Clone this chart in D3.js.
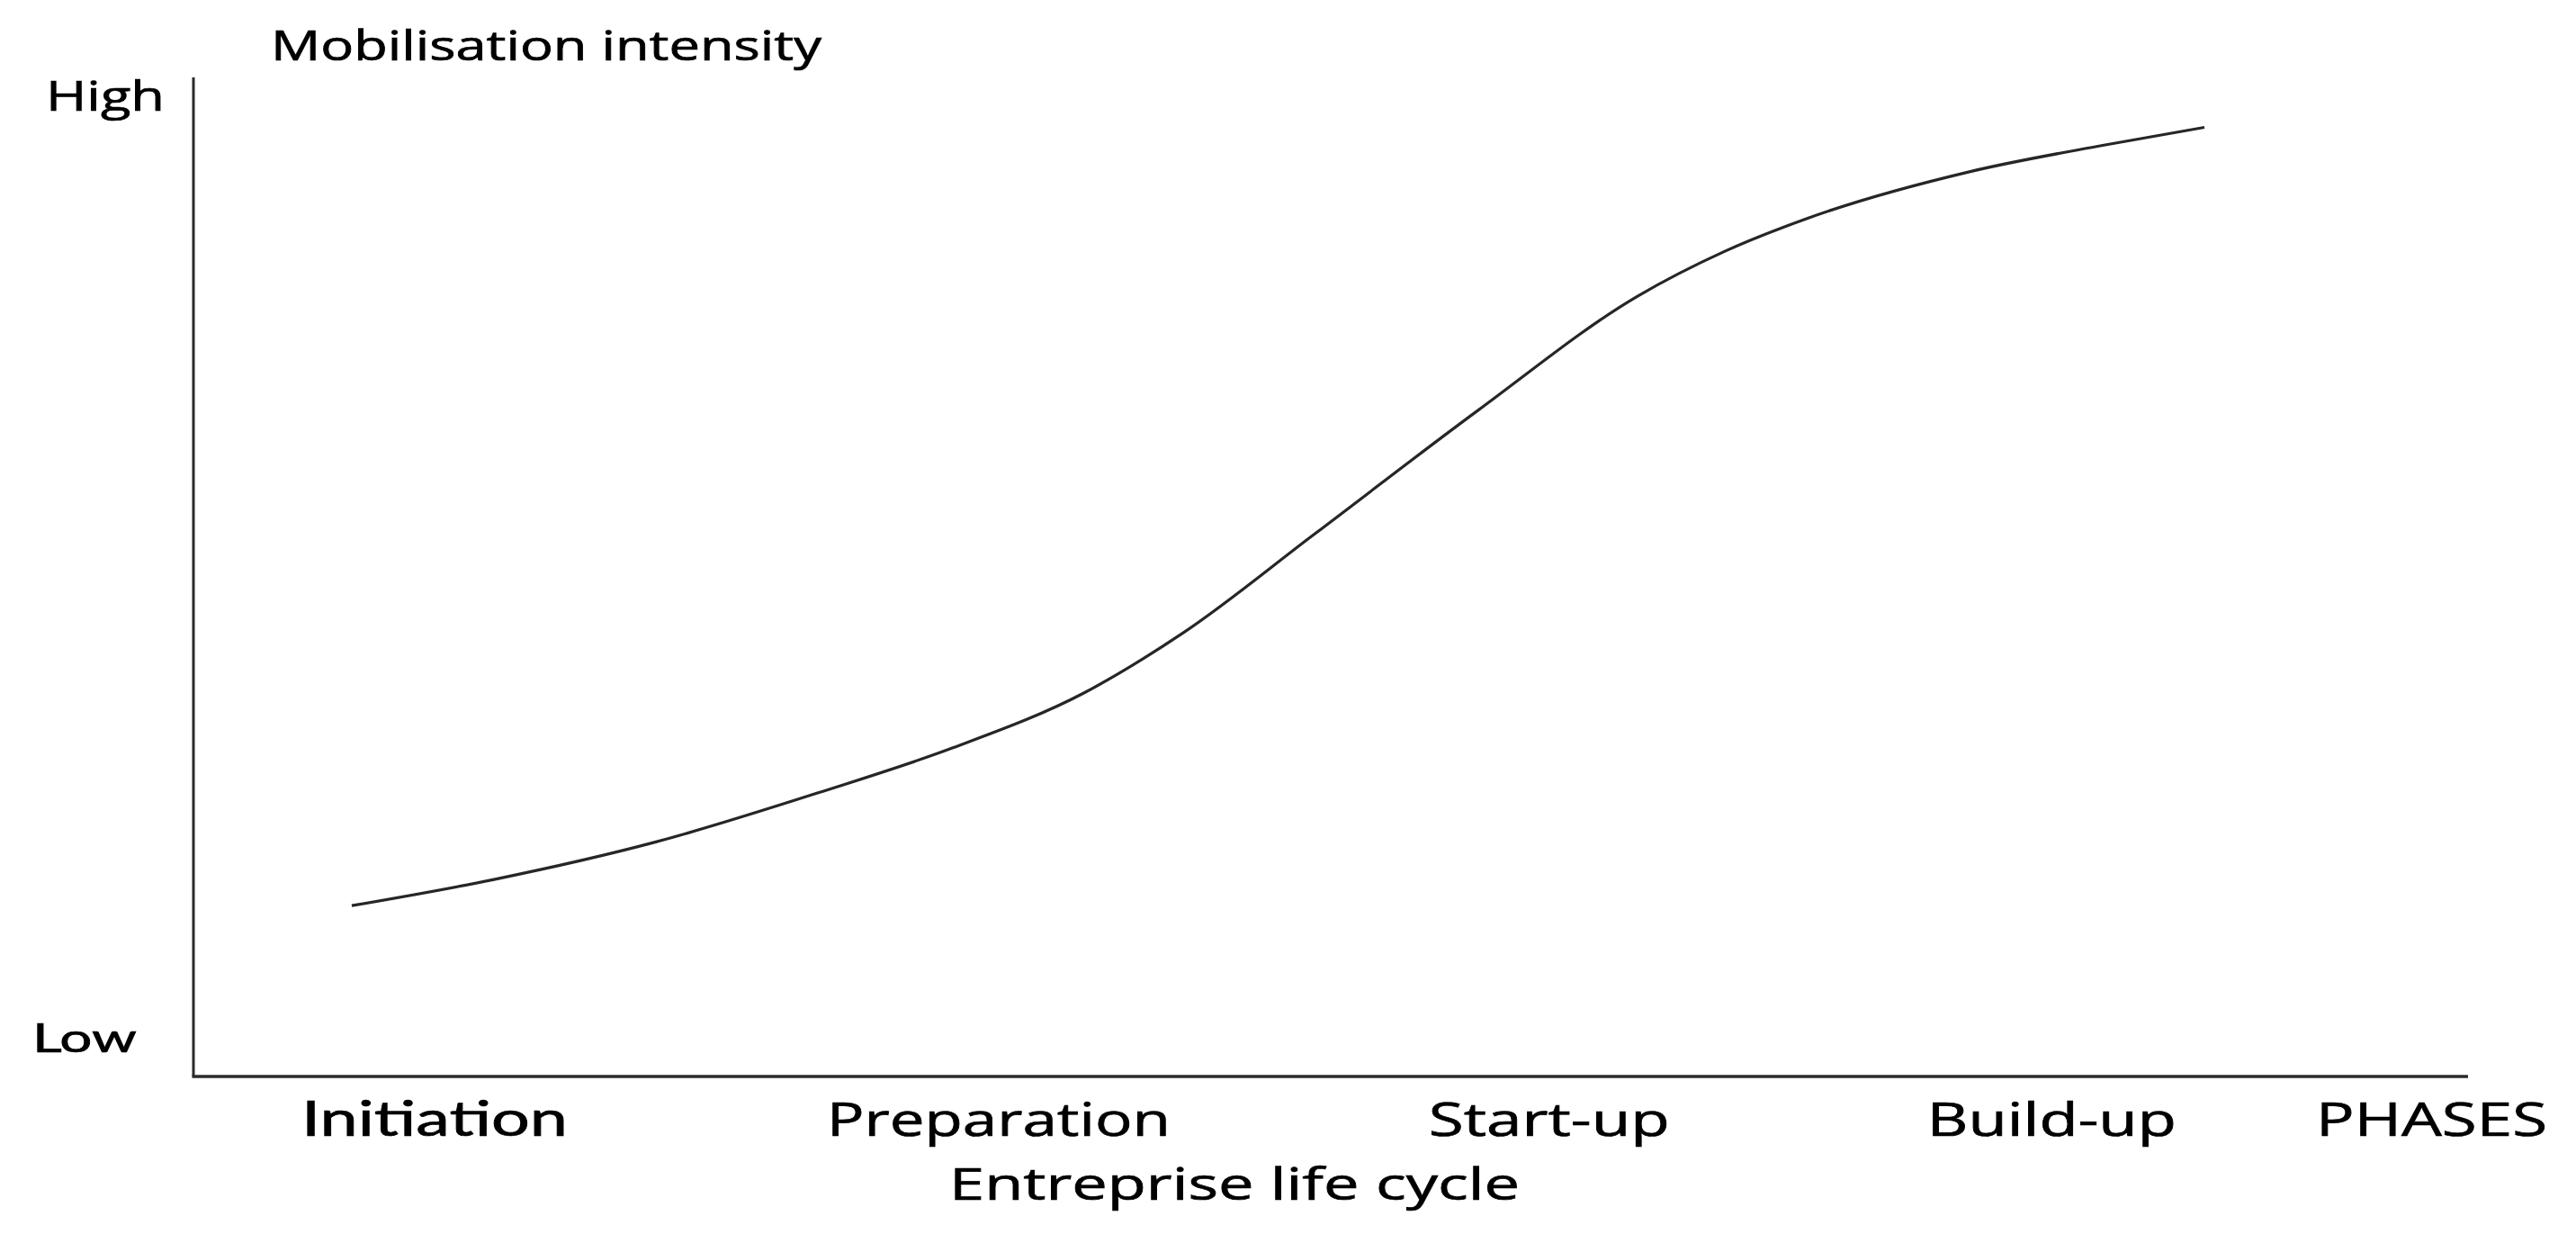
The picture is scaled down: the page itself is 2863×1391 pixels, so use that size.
<!DOCTYPE html>
<html>
<head>
<meta charset="utf-8">
<script src="https://cdn.jsdelivr.net/npm/d3@7"></script>
<style>
  html, body { margin: 0; padding: 0; background: #fff; }
  svg { display: block; }
</style>
</head>
<body>
<script>
// ---- data ----
const phases = ["Initiation", "Preparation", "Start-up", "Build-up", "PHASES"];
const phasePos = [10.6, 35.4, 59.6, 81.7, 98.4];           // position along life cycle (0-100)
const curveX = [6.96, 13.17, 20.37, 27.61, 33.39, 39.16, 43.51, 49.29, 56.49, 63.49, 67.33, 70.97, 78.16, 83.94, 88.41];
const curveY = [17.1, 19.7, 23.5, 28.5, 32.9, 38.4, 44.4, 54.3, 66.7, 78.1, 82.6, 85.9, 90.6, 93.2, 95.0];
const yTickLabels = ["Low", "High"];
const yTickValues = [2.4, 96.7];
const yTitle = "Mobilisation intensity";
const xTitle = "Entreprise life cycle";

// ---- layout ----
const W = 2863, H = 1391;
const x0 = 215, x1 = 2743, yBot = 1196, yTop = 86;

const svg = d3.select("body").append("svg").attr("width", W).attr("height", H);

const x = d3.scaleLinear().domain([0, 100]).range([x0, x1]);
const y = d3.scaleLinear().domain([0, 100]).range([yBot, yTop]);

// axes
svg.append("line").attr("x1", x0).attr("x2", x0).attr("y1", yTop).attr("y2", yBot)
  .attr("stroke", "#2b2b2b").attr("stroke-width", 3);
svg.append("line").attr("x1", x0 - 1.5).attr("x2", x1).attr("y1", yBot).attr("y2", yBot)
  .attr("stroke", "#2b2b2b").attr("stroke-width", 3.5);

// curve
const pts = curveX.map((v, i) => [v, curveY[i]]);
svg.append("path")
  .datum(pts)
  .attr("fill", "none")
  .attr("stroke", "#262626")
  .attr("stroke-width", 3.2)
  .attr("d", d3.line().x(d => x(d[0])).y(d => y(d[1])).curve(d3.curveMonotoneX));

function styleText(sel, font, size, width) {
  sel.attr("font-family", font)
    .attr("font-size", size)
    .attr("fill", "#000")
    .attr("stroke", "#000")
    .attr("stroke-width", 0.7)
    .attr("textLength", width)
    .attr("lengthAdjust", "spacingAndGlyphs");
}

// y tick labels
const yLabelStyle = [
  { font: "Lato", size: 45, left: 36, width: 116 },
  { font: "Open Sans", size: 46, left: 51, width: 132 }
];
yTickLabels.forEach((t, i) => {
  const s = yLabelStyle[i];
  const tx = svg.append("text")
    .attr("x", s.left)
    .attr("y", y(yTickValues[i]))
    .text(t);
  styleText(tx, s.font, s.size, s.width);
});

// y title
styleText(svg.append("text").attr("x", 301).attr("y", 67).text(yTitle), "Open Sans", 45, 612);

// phase labels
const phaseWidths = [296, 382, 268, 277, 257];
const phaseFonts = ["Lato", "Open Sans", "Open Sans", "Open Sans", "Open Sans"];
const phaseSizes = [54, 52, 52, 52, 52];
phases.forEach((p, i) => {
  const tx = svg.append("text")
    .attr("x", x(phasePos[i]))
    .attr("y", 1262)
    .attr("text-anchor", "middle")
    .text(p);
  styleText(tx, phaseFonts[i], phaseSizes[i], phaseWidths[i]);
});

// x title
styleText(svg.append("text").attr("x", 1372).attr("y", 1333).attr("text-anchor", "middle").text(xTitle),
  "Open Sans", 50, 634);
</script>
</body>
</html>
